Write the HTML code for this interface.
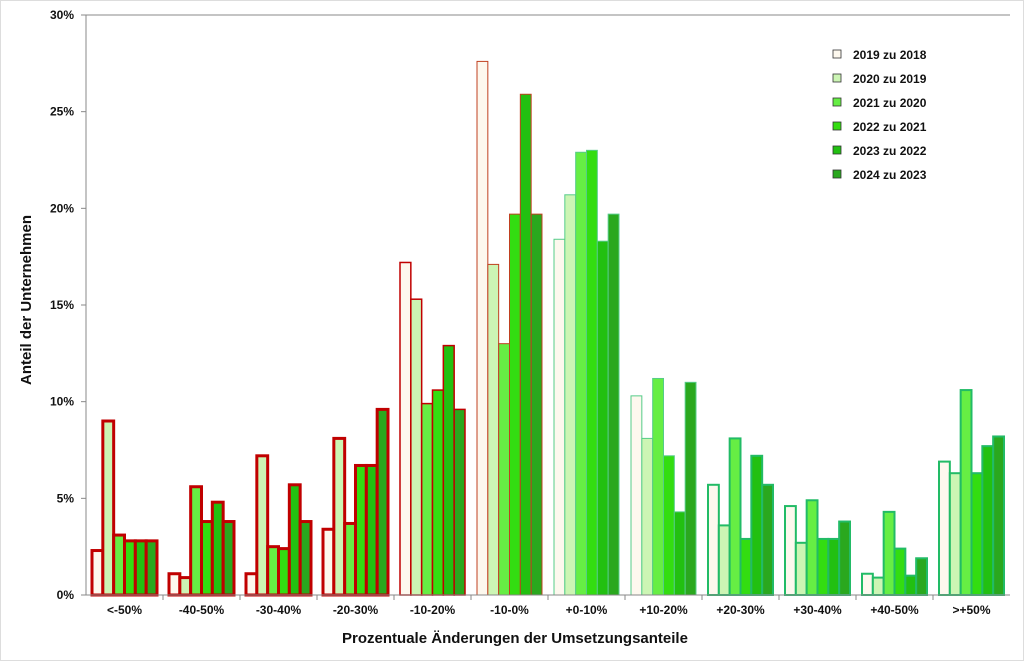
<!DOCTYPE html>
<html><head><meta charset="utf-8"><style>
body{margin:0;background:#fff;}
svg text{font-family:"Liberation Sans",Arial,sans-serif;font-weight:bold;fill:#111;}
</style></head><body>
<svg id="chart" width="1024" height="661" viewBox="0 0 1024 661" xmlns="http://www.w3.org/2000/svg">
<rect x="0.5" y="0.5" width="1023" height="660" fill="#fff" stroke="#ddd"/>
<g id="grid"></g><g id="bars"></g><g id="axes"></g><g id="legend"></g>
<text x="515" y="643" text-anchor="middle" font-size="15">Prozentuale Änderungen der Umsetzungsanteile</text>
<text transform="translate(31,300) rotate(-90)" text-anchor="middle" font-size="15">Anteil der Unternehmen</text>
</svg>
<script>
const categories=["<-50%","-40-50%","-30-40%","-20-30%","-10-20%","-10-0%","+0-10%","+10-20%","+20-30%","+30-40%","+40-50%",">+50%"];
const seriesNames=["2019 zu 2018","2020 zu 2019","2021 zu 2020","2022 zu 2021","2023 zu 2022","2024 zu 2023"];
const s2019=[2.3,1.1,1.1,3.4,17.2,27.6,18.4,10.3,5.7,4.6,1.1,6.9];
const s2020=[9.0,0.9,7.2,8.1,15.3,17.1,20.7,8.1,3.6,2.7,0.9,6.3];
const s2021=[3.1,5.6,2.5,3.7,9.9,13.0,22.9,11.2,8.1,4.9,4.3,10.6];
const s2022=[2.8,3.8,2.4,6.7,10.6,19.7,23.0,7.2,2.9,2.9,2.4,6.3];
const s2023=[2.8,4.8,5.7,6.7,12.9,25.9,18.3,4.3,7.2,2.9,1.0,7.7];
const s2024=[2.8,3.8,3.8,9.6,9.6,19.7,19.7,11.0,5.7,3.8,1.9,8.2];
const yTicks=[0,5,10,15,20,25,30];
const series=[s2019,s2020,s2021,s2022,s2023,s2024];
const fills=["#fdf8ee","#ccf5b4","#66ee44","#33dd11","#22c011","#2aa81e"];
const X0=86,X1=1010,Y0=595,Y1=15;
const NS="http://www.w3.org/2000/svg";
const gw=(X1-X0)/categories.length;
const y=v=>Y0-(v/30)*(Y0-Y1);
const xg=i=>X0+i*gw;
function mk(tag,a,parent){const e=document.createElementNS(NS,tag);for(const k in a)e.setAttribute(k,a[k]);parent.appendChild(e);return e;}
const axes=document.getElementById('axes'),bars=document.getElementById('bars'),leg=document.getElementById('legend');
let ax=mk('line',{x1:X0,y1:Y1,x2:X0,y2:Y0,stroke:'#888'},axes);

let bx=mk('line',{x1:X0,y1:Y0,x2:X1,y2:Y0,stroke:'#888'},axes);

let tp=mk('line',{x1:X0,y1:Y1,x2:X1,y2:Y1,stroke:'#888'},axes);

yTicks.forEach(t=>{
  let l=mk('line',{x1:X0-5,y1:y(t),x2:X0,y2:y(t),stroke:'#888'},axes);
  
  let tx=mk('text',{x:X0-12,y:y(t)+4,'text-anchor':'end','font-size':12},axes);
  tx.textContent=t+'%';
  
});
categories.forEach((c,i)=>{
  if(i>0){let l=mk('line',{x1:xg(i),y1:Y0,x2:xg(i),y2:Y0+5,stroke:'#888'},axes);
  }
  let tx=mk('text',{x:xg(i)+gw/2,y:Y0+19,'text-anchor':'middle','font-size':12},axes);
  tx.textContent=c;
  
  let stroke,sw;
  if(i<4){stroke='#c00000';sw=3;}else if(i===4){stroke='#c00000';sw=1.5;}
  else if(i===5){stroke='#c04020';sw=1;}else if(i<8){stroke='#55cc88';sw=1;}
  else{stroke='#22bb66';sw=2;}
  const bw=(gw-12)/6;
  series.forEach((s,k)=>{
    const v=s[i];
    let r=mk('rect',{x:xg(i)+6+k*bw,y:y(v),width:bw,height:Y0-y(v),fill:fills[k],stroke:stroke,'stroke-width':sw},bars);
    
    
  });
});
seriesNames.forEach((n,k)=>{
  const ly=55+k*24;
  let r=mk('rect',{x:833,y:ly-5,width:8,height:8,fill:fills[k],stroke:'#333','stroke-width':0.8},leg);
  
  let t=mk('text',{x:853,y:ly+4,'font-size':12},leg);
  t.textContent=n;
  
});
</script>
</body></html>
